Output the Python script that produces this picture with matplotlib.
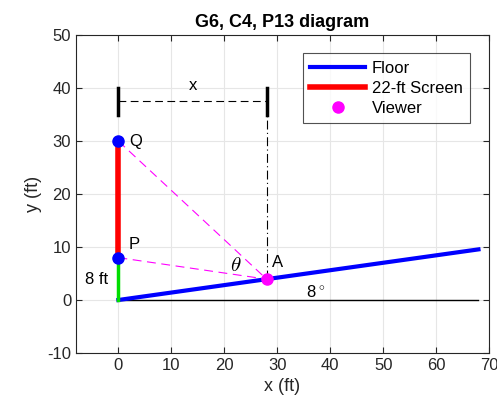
import numpy as np
import matplotlib
matplotlib.use("Agg")
import matplotlib.pyplot as plt

plt.rcParams['font.family'] = ['Liberation Sans', 'DejaVu Sans']
plt.rcParams['mathtext.fontset'] = 'cm'
plt.rcParams['axes.unicode_minus'] = False

angle_deg = 8
floor_x = [0, 68]
viewer_x = 28
P_y = 8
Q_y = 30
dim_y = 37.5
tan = np.tan(np.radians(angle_deg))
floor_y = [floor_x[0] * tan, floor_x[1] * tan]
viewer_y = viewer_x * tan

fig = plt.figure(figsize=(4.97, 4.09), dpi=100)
ax = fig.add_axes([0.153, 0.137, 0.831, 0.777])

ax.grid(True, color='#e6e6e6', linewidth=0.8, zorder=0)
ax.set_axisbelow(True)

# baseline
ax.plot([0, 68], [0, 0], color='black', lw=1, zorder=2)
# floor
ax.plot(floor_x, floor_y, color='blue', lw=3, label='Floor', zorder=3)
# green wall part
ax.plot([0, 0], [0, P_y], color='#00dd00', lw=2.5, zorder=3)
# screen
ax.plot([0, 0], [P_y, Q_y], color='red', lw=4, label='22-ft Screen', zorder=3)
# sight lines
ax.plot([0, viewer_x], [P_y, viewer_y], color='magenta', lw=0.8, ls=(0, (8, 5)), zorder=3)
ax.plot([0, viewer_x], [Q_y, viewer_y], color='magenta', lw=0.8, ls=(0, (8, 5)), zorder=3)
# vertical dash-dot
ax.plot([viewer_x, viewer_x], [viewer_y, dim_y], color='black', lw=0.8, ls=(0, (8, 3, 1, 3)), zorder=2)
# dimension line
ax.plot([0, viewer_x], [dim_y, dim_y], color='black', lw=0.8, ls=(0, (7, 4)), zorder=2)
ax.plot([0, 0], [35, 40], color='black', lw=2.5, zorder=3)
ax.plot([viewer_x, viewer_x], [35, 40], color='black', lw=2.5, zorder=3)

# points
ax.plot([0, 0], [P_y, Q_y], 'o', color='blue', ms=8, zorder=4)
ax.plot([viewer_x], [viewer_y], 'o', color='magenta', ms=8, label='Viewer', zorder=5, ls='none')

# labels
ax.text(14, 39, 'x', fontsize=12, ha='center', va='bottom')
ax.text(2, Q_y, 'Q', fontsize=12, ha='left', va='center')
ax.text(2, P_y + 2.5, 'P', fontsize=12, ha='left', va='center')
ax.text(-6.3, 3.8, '8 ft', fontsize=12, ha='left', va='center')
ax.text(29, 7, 'A', fontsize=12, ha='left', va='center')
ax.text(21, 6.5, r'$\theta$', fontsize=15, ha='left', va='center')
ax.text(35.5, 1.5, r'8$\,^{\circ}$', fontsize=12, ha='left', va='center')

ax.set_xlim(-8, 70)
ax.set_ylim(-10, 50)
ax.set_xticks(range(0, 71, 10))
ax.set_yticks(range(-10, 51, 10))
ax.tick_params(direction='in', top=True, right=True, labelsize=12, length=4, colors='#262626')
for s in ax.spines.values():
    s.set_color('#262626')
    s.set_linewidth(0.8)

ax.set_xlabel('x (ft)', fontsize=13, color='#262626')
ax.set_ylabel('y (ft)', fontsize=13, color='#262626')
ax.set_title('G6, C4, P13 diagram', fontsize=13, fontweight='bold')

leg = ax.legend(loc='upper right', bbox_to_anchor=(0.954, 0.943), fontsize=12, frameon=True,
                fancybox=False, edgecolor='#262626', handlelength=3.3, borderpad=0.45,
                labelspacing=0.3, handletextpad=0.4, borderaxespad=0)
leg.get_frame().set_linewidth(0.8)

fig.savefig('out.png', dpi=100)
